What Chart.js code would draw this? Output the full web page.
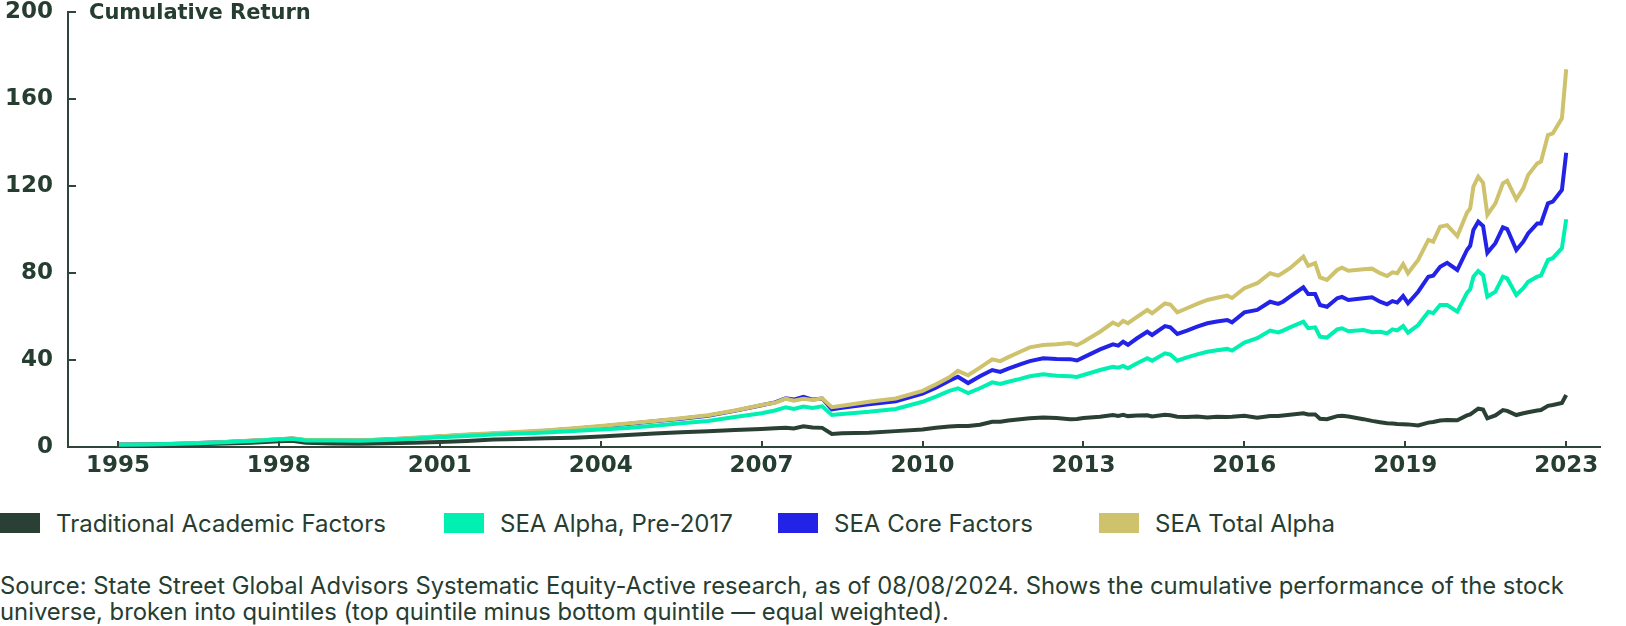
<!DOCTYPE html>
<html>
<head>
<meta charset="utf-8">
<script src="https://cdn.jsdelivr.net/npm/chart.js@4"></script>
<style>
  body { margin: 0; background: #fff; font-family: Inter, "Noto Sans", sans-serif; color: #263d31; }
  #wrap { position: absolute; left: 0; top: 0; width: 1626px; height: 490px; }
  #legend { position: absolute; left: 0; top: 510px; width: 1626px; height: 26px; font-size: 24px; }
  .item { position: absolute; top: 0; display: flex; align-items: center; height: 26px; white-space: nowrap; }
  .box { width: 40px; height: 20px; margin-right: 16px; }
  #source { position: absolute; left: 0; top: 573px; font-size: 23.8px; line-height: 26px; white-space: nowrap; }
</style>
</head>
<body>
<div id="wrap"><canvas id="chart"></canvas></div>
<div id="legend"></div>
<div id="source">Source: State Street Global Advisors Systematic Equity-Active research, as of 08/08/2024. Shows the cumulative performance of the stock<br>universe, broken into quintiles (top quintile minus bottom quintile — equal weighted).</div>
<script>
// years since Jan 1995
const time = [0, 0.5, 1, 1.5, 2, 2.5, 3, 3.25, 3.5, 4, 4.5, 5, 5.5, 6, 6.5, 7, 7.5, 8, 8.5, 9,
  9.5, 10, 10.5, 11, 11.5, 12, 12.25, 12.45, 12.6, 12.78, 12.95, 13.13, 13.31, 13.5, 14, 14.5,
  15, 15.25, 15.5, 15.66, 15.85, 16.07, 16.3, 16.45, 16.6, 16.82, 17, 17.25, 17.5, 17.75, 17.88,
  18, 18.31, 18.55, 18.65, 18.74, 18.83, 19, 19.19, 19.28, 19.52, 19.62, 19.75, 19.93, 20.12,
  20.31, 20.49, 20.68, 20.77, 21, 21.24, 21.48, 21.63, 21.72, 21.85, 22.1, 22.19, 22.32, 22.41,
  22.54, 22.73, 22.82, 22.94, 23.22, 23.38, 23.53, 23.66, 23.76, 23.85, 23.96, 24.05, 24.24,
  24.43, 24.52, 24.65, 24.78, 24.97, 25.15, 25.21, 25.27, 25.36, 25.45, 25.53, 25.68, 25.82,
  25.9, 26.07, 26.2, 26.29, 26.46, 26.53, 26.66, 26.75, 26.92, 27];

const traditional = [1.0, 1.0, 1.1, 1.3, 1.6, 2.0, 2.6, 2.9, 2.0, 1.6, 1.5, 1.7, 2.0, 2.3, 2.8, 3.4, 3.7, 4.0, 4.3, 4.8,
  5.5, 6.2, 6.8, 7.2, 7.8, 8.3, 8.6, 8.9, 8.5, 9.5, 9.0, 8.8, 6.0, 6.3, 6.6, 7.3,
  8.1, 8.8, 9.4, 9.6, 9.7, 10.2, 11.6, 11.6, 12.2, 12.8, 13.2, 13.6, 13.3, 12.8, 12.9,
  13.3, 13.9, 14.7, 14.3, 14.8, 14.2, 14.5, 14.6, 14.0, 14.8, 14.6, 13.9, 13.8, 14.0,
  13.6, 13.9, 13.8, 13.9, 14.4, 13.5, 14.3, 14.3, 14.5, 14.8, 15.5, 15.0, 15.0, 13.0,
  12.8, 14.2, 14.4, 14.0, 12.8, 12.0, 11.4, 10.9, 10.8, 10.6, 10.5, 10.4, 9.9,
  11.2, 11.5, 12.2, 12.4, 12.3, 14.5, 15.0, 16.0, 17.6, 17.2, 13.2, 14.5, 17.0,
  16.6, 14.7, 15.5, 16.0, 16.8, 17.0, 18.9, 19.3, 20.2, 23.9];

const alphaPre2017 = [1.0, 1.2, 1.4, 1.7, 2.2, 2.8, 3.4, 3.8, 3.0, 3.0, 2.9, 3.2, 3.8, 4.5, 5.1, 5.7, 6.2, 6.7, 7.3, 8.0,
  8.7, 9.8, 10.9, 12.0, 13.8, 15.5, 16.8, 18.3, 17.5, 18.6, 17.9, 18.7, 14.7, 15.2, 16.2, 17.5,
  20.8, 23.2, 25.8, 27.0, 24.8, 27.0, 29.7, 29.0, 30.0, 31.3, 32.5, 33.4, 32.8, 32.5, 32.2,
  33.1, 35.4, 36.9, 36.5, 37.3, 36.2, 38.5, 40.8, 39.7, 43.1, 42.5, 39.7, 41.2, 42.6,
  43.8, 44.5, 45.1, 44.3, 48.0, 50.0, 53.5, 52.7, 53.5, 55.0, 57.6, 54.6, 55.0, 50.7,
  50.3, 54.1, 54.6, 53.2, 53.8, 52.8, 53.0, 52.3, 54.1, 53.6, 55.6, 52.6, 56.1,
  62.2, 61.5, 65.3, 65.3, 62.2, 70.9, 72.5, 78.3, 80.9, 79.0, 69.1, 71.4, 78.3,
  77.5, 69.9, 73.0, 76.0, 78.3, 78.8, 86.0, 86.8, 91.4, 104.7];

const coreFactors = [1.0, 1.2, 1.4, 1.8, 2.3, 2.9, 3.5, 3.9, 3.1, 3.1, 3.0, 3.4, 4.0, 4.8, 5.5, 6.1, 6.7, 7.5, 8.4, 9.4,
  10.6, 11.8, 13.0, 14.4, 16.6, 19.2, 20.5, 22.4, 21.8, 23.1, 21.8, 22.3, 17.3, 18.0, 19.6, 21.0,
  24.5, 27.3, 30.5, 32.3, 29.4, 32.5, 35.4, 34.5, 36.0, 38.0, 39.5, 40.8, 40.5, 40.4, 39.8,
  41.2, 44.9, 47.2, 46.6, 48.4, 47.0, 50.0, 53.0, 51.5, 55.6, 55.0, 52.0, 53.5, 55.3,
  56.9, 57.7, 58.4, 57.3, 61.9, 63.0, 66.8, 65.8, 66.8, 69.1, 73.4, 70.3, 70.3, 65.3,
  64.5, 68.4, 69.0, 67.6, 68.4, 68.8, 66.8, 65.6, 67.1, 66.4, 69.4, 66.1, 71.4,
  78.3, 78.8, 82.9, 84.7, 81.4, 90.6, 92.5, 99.8, 103.6, 101.6, 89.3, 93.7, 101.0,
  100.2, 90.6, 94.4, 98.2, 102.8, 102.8, 112.0, 112.8, 118.2, 135.3];

const totalAlpha = [1.0, 1.2, 1.5, 1.8, 2.3, 3.0, 3.6, 4.0, 3.2, 3.2, 3.1, 3.5, 4.2, 5.0, 5.7, 6.3, 7.0, 7.7, 8.6, 9.7,
  10.8, 12.0, 13.2, 14.6, 16.8, 19.3, 20.3, 22.2, 21.3, 22.2, 21.6, 22.4, 18.3, 19.0, 20.8, 22.3,
  25.8, 28.8, 32.0, 35.0, 33.0, 36.5, 40.3, 39.5, 41.3, 43.8, 45.8, 46.9, 47.2, 47.8, 46.8,
  48.4, 53.0, 57.2, 56.0, 58.0, 56.9, 59.8, 63.0, 61.5, 66.0, 65.5, 61.9, 63.8, 65.8,
  67.6, 68.6, 69.6, 68.5, 73.0, 75.3, 79.9, 78.8, 80.1, 82.2, 87.5, 83.3, 84.5, 78.0,
  76.8, 81.4, 82.4, 81.0, 81.7, 82.0, 79.9, 78.6, 80.3, 79.9, 84.1, 79.9, 86.0,
  95.2, 94.4, 101.3, 102.0, 97.0, 107.7, 109.7, 119.7, 124.3, 121.5, 106.7, 112.0, 121.2,
  122.4, 113.9, 118.9, 125.0, 130.4, 131.2, 143.4, 144.2, 151.1, 173.7];

const tickYears = [0, 3, 6, 9, 12, 15, 18, 21, 24, 27];
const tickLabels = ["1995", "1998", "2001", "2004", "2007", "2010", "2013", "2016", "2019", "2023"];
const yTicks = [0, 40, 80, 120, 160, 200];

const ink = "#263d31";
const axisColor = "#2f4539";

const toPoints = (values) => time.map((t, i) => ({ x: t, y: values[i] }));

const series = [
  { label: "Traditional Academic Factors", data: traditional, color: "#2a4034", order: 1, left: 0 },
  { label: "SEA Alpha, Pre-2017", data: alphaPre2017, color: "#00f0b2", order: 0, left: 444 },
  { label: "SEA Core Factors", data: coreFactors, color: "#2323e8", order: 3, left: 778 },
  { label: "SEA Total Alpha", data: totalAlpha, color: "#cfc26d", order: 2, left: 1099 },
];

// little inward tick marks + chart title
const extras = {
  id: "extras",
  afterDraw(chart) {
    const { ctx, scales, chartArea } = chart;
    ctx.save();
    ctx.strokeStyle = axisColor;
    ctx.lineWidth = 2;
    ctx.beginPath();
    for (const v of yTicks) {
      if (v === 0) continue;
      const y = Math.round(scales.y.getPixelForValue(v));
      ctx.moveTo(chartArea.left - 1, y);
      ctx.lineTo(chartArea.left + 8, y);
    }
    for (const v of tickYears) {
      const x = Math.round(scales.x.getPixelForValue(v));
      ctx.moveTo(x, chartArea.bottom);
      ctx.lineTo(x, chartArea.bottom - 6);
    }
    ctx.stroke();
    ctx.fillStyle = ink;
    ctx.font = "bold 21px 'DejaVu Sans'";
    ctx.textBaseline = "alphabetic";
    ctx.fillText("Cumulative Return", 89, 19);
    ctx.restore();
  },
};

const tickFont = { family: "'DejaVu Sans'", size: 23, weight: "bold", lineHeight: 1 };

const chart = new Chart(document.getElementById("chart"), {
  type: "line",
  data: {
    datasets: series.map((s) => ({
      label: s.label,
      data: toPoints(s.data),
      borderColor: s.color,
      backgroundColor: s.color,
      borderWidth: 4,
      pointRadius: 0,
      tension: 0,
      order: s.order,
    })),
  },
  options: {
    responsive: true,
    maintainAspectRatio: false,
    animation: false,
    layout: { padding: { top: 12, right: 26, left: 0, bottom: 0 } },
    plugins: { legend: { display: false }, tooltip: { enabled: false } },
    scales: {
      x: {
        type: "linear",
        min: -0.93,
        max: 27.63,
        afterBuildTicks: (s) => {
          s.ticks = tickYears.map((v) => ({ value: v }));
        },
        afterFit: (s) => {
          s.height = 43;
        },
        ticks: {
          autoSkip: false,
          maxRotation: 0,
          padding: 8,
          color: ink,
          font: tickFont,
          callback: (v, i) => tickLabels[i],
        },
        grid: { display: false, drawTicks: false },
        border: { display: true, color: axisColor, width: 2 },
      },
      y: {
        min: 0,
        max: 200,
        afterBuildTicks: (s) => {
          s.ticks = yTicks.map((v) => ({ value: v }));
        },
        afterFit: (s) => {
          s.width = 68;
          s.paddingTop = 0;
          s.paddingBottom = 0;
        },
        ticks: { padding: 15, color: ink, font: tickFont },
        grid: { display: false, drawTicks: false },
        border: { display: true, color: axisColor, width: 2 },
      },
    },
  },
  plugins: [extras],
});

let html = "";
for (const s of series) {
  html += `<div class="item" style="left:${s.left}px"><div class="box" style="background:${s.color}"></div>${s.label}</div>`;
}
document.getElementById("legend").innerHTML = html;
</script>
</body>
</html>
